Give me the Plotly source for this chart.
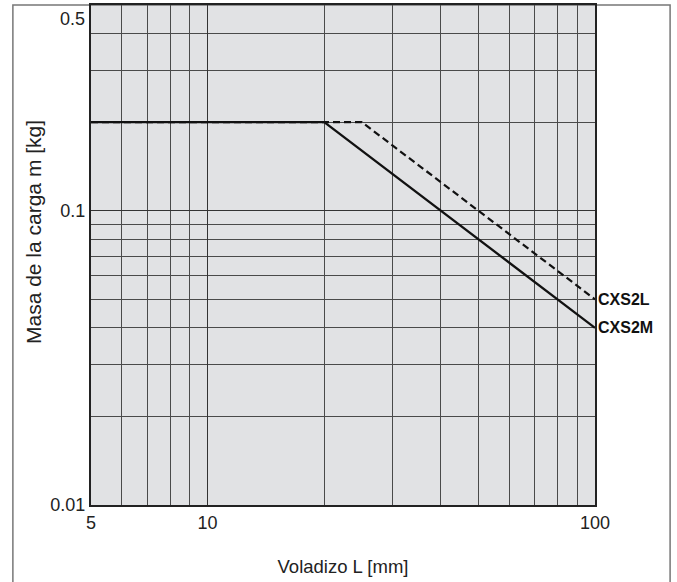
import math
import plotly.graph_objects as go

# Data
overhang_m = [5, 20, 100]
mass_m = [0.2, 0.2, 0.04]
overhang_l = [5, 25, 100]
mass_l = [0.2, 0.2, 0.05]
series_names = ["CXS2L", "CXS2M"]
x_ticks = [5, 10, 100]
x_minor = [6, 7, 8, 9, 20, 30, 40, 50, 60, 70, 80, 90]
y_ticks = [0.01, 0.1]
y_tick_text = ["0.01", "0.1"]
y_top = 0.5
y_minor = [0.02, 0.03, 0.04, 0.05, 0.06, 0.07, 0.08, 0.09, 0.2, 0.3, 0.4]

font = "Liberation Sans, Arial"
fig = go.Figure()
fig.add_trace(go.Scatter(x=overhang_l, y=mass_l, mode="lines",
                         line=dict(color="#111111", width=2.2, dash="7px,4px"),
                         name=series_names[0], showlegend=False))
fig.add_trace(go.Scatter(x=overhang_m, y=mass_m, mode="lines",
                         line=dict(color="#111111", width=2.3),
                         name=series_names[1], showlegend=False))

for name, ys in [(series_names[0], mass_l), (series_names[1], mass_m)]:
    fig.add_annotation(x=1.0, xref="paper", y=math.log10(ys[-1]), yref="y", yanchor="middle",
                       text="<b>" + name + "</b>", showarrow=False, xanchor="left",
                       xshift=1, font=dict(family=font, size=16, color="#111111"))

# top tick label (kept inside the page)
fig.add_annotation(x=0, xref="paper", y=math.log10(y_top), yref="y", xanchor="right",
                   yanchor="middle", yshift=-14, xshift=-4, text=str(y_top), showarrow=False,
                   font=dict(family=font, size=18, color="#222222"))

# y axis title
fig.add_annotation(x=-0.114, xref="paper", y=0.545, yref="paper", text="Masa de la carga m [kg]",
                   textangle=-90, showarrow=False, xanchor="center", yanchor="middle",
                   font=dict(family=font, size=21, color="#222222"))

fig.update_xaxes(type="log", range=[math.log10(5), 2.0], tickvals=x_ticks,
                 ticktext=[str(v) for v in x_ticks], showgrid=True, gridcolor="#333333",
                 gridwidth=1.3, minor=dict(tickvals=x_minor, showgrid=True, gridcolor="#4a4a4a",
                                           gridwidth=1.2, ticks=""),
                 showline=True, linecolor="#222222", linewidth=2, mirror=True, ticks="",
                 zeroline=False, automargin=False,
                 tickfont=dict(family=font, size=18, color="#222222"),
                 title=dict(text="Voladizo L [mm]", standoff=28,
                            font=dict(family=font, size=18.5, color="#222222")))
fig.update_yaxes(type="log", range=[-2.0, math.log10(y_top)], tickvals=y_ticks, ticktext=y_tick_text,
                 showgrid=True, gridcolor="#333333", gridwidth=1.3,
                 minor=dict(tickvals=y_minor, showgrid=True, gridcolor="#4a4a4a",
                            gridwidth=1.2, ticks=""),
                 showline=True, linecolor="#222222", linewidth=2, mirror=True, ticks="",
                 zeroline=False, automargin=False,
                 tickfont=dict(family=font, size=18, color="#222222"))

fig.update_layout(width=677, height=582,
                  margin=dict(l=91, r=82, t=5, b=77),
                  plot_bgcolor="#e1e2e4", paper_bgcolor="white",
                  showlegend=False)
fig.add_shape(type="rect", xref="paper", yref="paper",
              x0=-0.155, x1=1.149, y0=-0.2, y1=1.0, line=dict(color="#777777", width=1.5),
              layer="below")

fig.write_html("out.html", config={"displayModeBar": False},
               post_script="document.body.style.margin='0';")
